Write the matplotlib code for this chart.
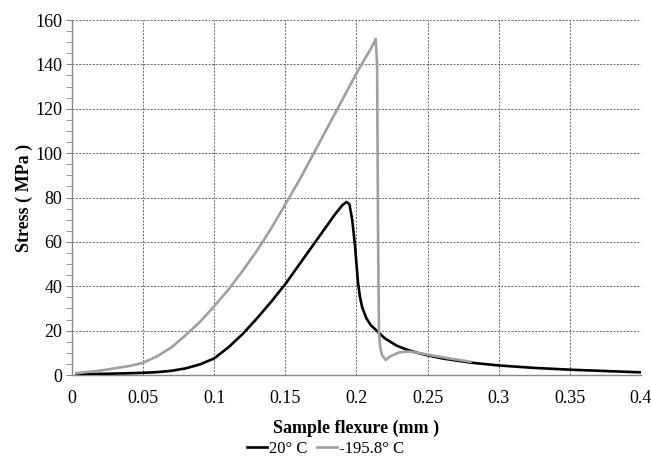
import numpy as np
import matplotlib
matplotlib.use("Agg")
import matplotlib.pyplot as plt
from matplotlib.ticker import MultipleLocator

# 20 C curve
x_warm = [0.003, 0.02, 0.04, 0.05, 0.06, 0.07, 0.08, 0.09, 0.1, 0.11, 0.12, 0.13, 0.14,
          0.15, 0.16, 0.17, 0.18, 0.185, 0.19, 0.193, 0.195, 0.197, 0.199, 0.2, 0.201,
          0.2025, 0.204, 0.207, 0.21, 0.215, 0.22, 0.228, 0.235, 0.245, 0.26, 0.28,
          0.3, 0.325, 0.35, 0.375, 0.4]
y_warm = [0.3, 0.5, 0.8, 1.0, 1.3, 1.9, 3.0, 4.8, 7.5, 12.5, 18.5, 25.5, 33,
          41, 50, 59, 68, 72.5, 76.5, 78, 77, 70, 58, 50, 42,
          35, 30.5, 25.5, 22.5, 19.5, 16.5, 13.3, 11.5, 9.6, 7.5, 5.6,
          4.3, 3.2, 2.4, 1.8, 1.2]

# -195.8 C curve
x_cold = [0.003, 0.02, 0.04, 0.05, 0.06, 0.07, 0.08, 0.09, 0.1, 0.11, 0.12, 0.13, 0.14,
          0.15, 0.16, 0.17, 0.18, 0.19, 0.2, 0.21, 0.2125, 0.2135, 0.2145, 0.2152, 0.2158,
          0.2168, 0.218, 0.2205, 0.224, 0.23, 0.237, 0.245, 0.255, 0.265, 0.28]
y_cold = [0.8, 2.0, 4.0, 5.5, 8.5, 12.5, 18, 24, 31, 38.5, 47, 56, 66,
          77, 88, 100, 112, 124, 136, 147, 150, 151.5, 140, 60, 19,
          12, 9, 6.8, 8.5, 10.2, 10.6, 9.8, 8.6, 7.5, 6.0]

fig = plt.figure(figsize=(6.51, 4.62), dpi=100)
ax = fig.add_axes([0.1106, 0.1883, 0.874, 0.7684])

plt.rcParams['font.family'] = 'Liberation Serif'
serif = 'Liberation Serif'

ax.plot(x_warm, y_warm, color='black', lw=1.9, label='20° C', zorder=3)
ax.plot(x_cold, y_cold, color='#a0a0a0', lw=1.9, label='-195.8° C', zorder=3)

ax.set_xlim(0, 0.4)
ax.set_ylim(0, 160)
ax.yaxis.set_major_locator(MultipleLocator(20))
ax.yaxis.set_minor_locator(MultipleLocator(5))
ax.set_xticks([0, 0.05, 0.1, 0.15, 0.2, 0.25, 0.3, 0.35, 0.4])
ax.set_xticklabels(['0', '0.05', '0.1', '0.15', '0.2', '0.25', '0.3', '0.35', '0.4'])

ax.grid(True, which='major', color='#666666', linestyle=(0, (2, 1.5)), lw=0.7)
for s in ['top', 'right']:
    ax.spines[s].set_visible(False)
for s in ['left', 'bottom']:
    ax.spines[s].set_color('#888888')
    ax.spines[s].set_linewidth(1.0)

ax.tick_params(axis='x', length=0, pad=11, labelsize=13)
ax.tick_params(axis='y', which='both', length=4, color='#888888', labelsize=13, pad=3)
for lab in ax.get_xticklabels() + ax.get_yticklabels():
    lab.set_fontfamily(serif)

ax.set_xlabel('Sample flexure (mm )', fontsize=13, fontweight='bold', family=serif, labelpad=9)
ax.set_ylabel('Stress ( MPa )', fontsize=13, fontweight='bold', family=serif, labelpad=2)

leg = fig.legend(loc='lower center', bbox_to_anchor=(0.5, -0.022), ncol=2, frameon=False,
                 prop={'family': serif, 'size': 12}, handlelength=1.2, handletextpad=0.1,
                 columnspacing=0.6)

fig.savefig('out.png', dpi=100)
